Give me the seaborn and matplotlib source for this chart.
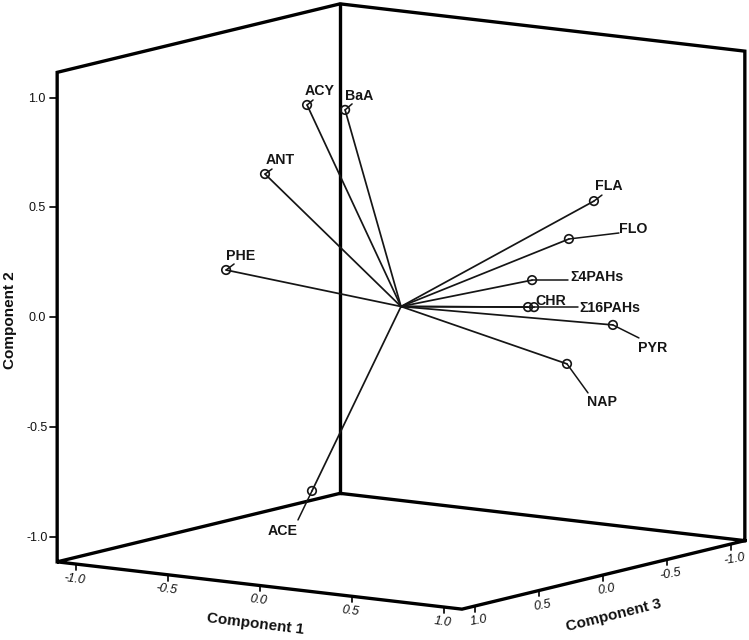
import numpy as np
import pandas as pd
import matplotlib
matplotlib.use("Agg")
import matplotlib.pyplot as plt
import seaborn as sns

names = ["ACY", "BaA", "ANT", "PHE", "ACE", "FLA", "FLO", "Σ4PAHs", "CHR", "Σ16PAHs", "PYR", "NAP"]
comp1 = [-0.441, -0.443, -0.600, -0.742, -0.136, 0.979, 0.843, 0.782, 0.760, 0.723, 0.943, 0.763]
comp2 = [0.889, 0.824, 0.573, 0.136, -0.783, 0.562, 0.376, 0.211, 0.086, 0.068, -0.034, -0.215]
comp3 = [0.1, -0.2, 0.2, 0.3, 0.5, -0.1, -0.1, 0.1, 0.1, 0.0, -0.3, -0.2]
ticks = [-1.0, -0.5, 0.0, 0.5, 1.0]
tick_labels = ["-1.0", "-0.5", "0.0", "0.5", "1.0"]
lim1, lim2, lim3 = 1.1, 1.115, 1.105

# label centre and leader end, as pixel offsets from each point
label_dx = [13, 14, 15, 15, -29, 15, 64, 65, 23, 76, 40, 35]
label_dy = [-14, -14, -14, -14, 40, -15, -10, -3, -6, 1, 23, 38]
lead_dx = [6, 7, 7, 8, -14, 8, 50, 36, 0, 44, 26, 21]
lead_dy = [-5, -6, -5, -6, 29, -6, -6, 0, 0, 0, 13, 29]

sns.set_theme(style="white")
plt.rcParams["font.family"] = ["Liberation Sans", "DejaVu Sans"]


def project(c1, c2, c3):
    c1, c2, c3 = np.asarray(c1, float), np.asarray(c2, float), np.asarray(c3, float)
    return 401 + 184 * c1 - 128 * c3, 306.5 + 21.5 * c1 + 31 * c3 - 219.5 * c2


fig = plt.figure(figsize=(7.49, 6.40), dpi=100)
ax = fig.add_axes([0, 0, 1, 1])
ax.set_xlim(0, 749)
ax.set_ylim(640, 0)
ax.axis("off")

# box
corners = [
    [(-lim1, -lim2, lim3), (-lim1, lim2, lim3), (-lim1, lim2, -lim3), (lim1, lim2, -lim3), (lim1, -lim2, -lim3),
     (lim1, -lim2, lim3), (-lim1, -lim2, lim3), (-lim1, -lim2, -lim3), (lim1, -lim2, -lim3)],
    [(-lim1, lim2, -lim3), (-lim1, -lim2, -lim3)],
]
for path in corners:
    a, b, c = zip(*path)
    x, y = project(a, b, c)
    ax.plot(x, y, color="black", lw=2.4, solid_joinstyle="miter", solid_capstyle="projecting", zorder=2)

# ticks and tick labels
tick_kw = dict(color="#111111", lw=1.3, zorder=1)
txt_kw = dict(ha="center", va="center", fontsize=9, color="#111111")
for t, lab in zip(ticks, tick_labels):
    x, y = project(-lim1, t, lim3)
    ax.plot([x - 7, x], [y, y], **tick_kw)
    ax.text(x - 20, y + 1, lab, **txt_kw)
    x, y = project(t, -lim2, lim3)
    ax.plot([x, x], [y, y + 6], **tick_kw)
    ax.text(x - 1, y + 15, lab, rotation=-7, style="italic", **txt_kw)
    x, y = project(lim1, -lim2, t)
    ax.plot([x, x], [y, y + 6], **tick_kw)
    ax.text(x + 3, y + 15, lab, rotation=10, style="italic", **txt_kw)

# axis titles
title_kw = dict(ha="center", va="center", fontsize=11, fontweight="bold", color="#111111")
ax.text(255, 624, "Component 1", rotation=-7, **title_kw)
ax.text(614, 615, "Component 3", rotation=14, **title_kw)
ax.text(10, 320, "Component 2", rotation=90, **title_kw)

# loadings
px, py = project(comp1, comp2, comp3)
ox, oy = project(0, 0, 0)
segs = pd.DataFrame({
    "name": names * 2,
    "x": np.r_[np.full(len(names), ox), px],
    "y": np.r_[np.full(len(names), oy), py],
})
sns.lineplot(data=segs, x="x", y="y", units="name", estimator=None, sort=False,
             color="#151515", lw=1.25, ax=ax, legend=False, zorder=3)
pts = pd.DataFrame({"name": names, "x": px, "y": py})
sns.scatterplot(data=pts, x="x", y="y", marker="o", s=38, facecolor="none",
                edgecolor="#151515", linewidth=1.2, ax=ax, legend=False, zorder=4)
ax.set_xlim(0, 749)
ax.set_ylim(640, 0)

for n, x, y, ldx, ldy, tdx, tdy in zip(names, px, py, label_dx, label_dy, lead_dx, lead_dy):
    if tdx or tdy:
        ax.plot([x, x + tdx], [y, y + tdy], color="#151515", lw=1.1, zorder=3)
    ax.text(x + ldx, y + ldy, n, ha="center", va="center", fontsize=10.2, fontweight="bold",
            color="#151515", zorder=5)

fig.savefig("out.png", dpi=100)
